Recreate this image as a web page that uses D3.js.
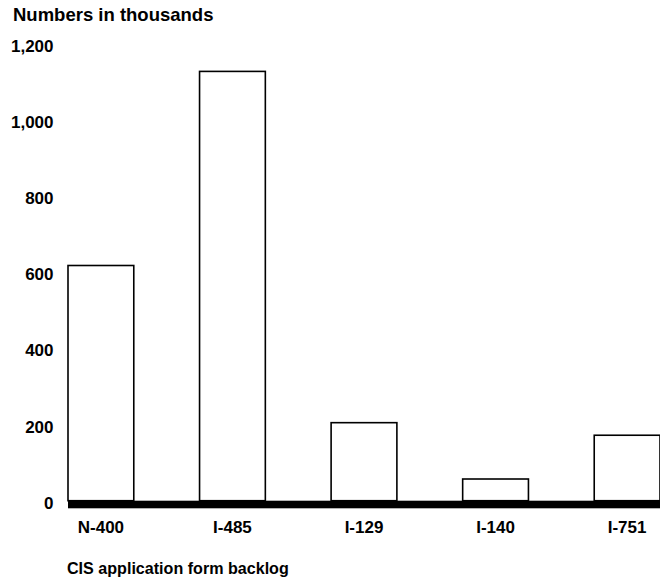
<!DOCTYPE html>
<html lang="en">
<head>
<meta charset="utf-8">
<title>CIS application form backlog</title>
<script src="https://cdn.jsdelivr.net/npm/d3@7"></script>
<style>
  body { margin: 0; background: #fff; }
  text { font-family: "Liberation Sans", Arial, Helvetica, sans-serif; font-weight: bold; fill: #000; }
</style>
</head>
<body>
<div id="chart"></div>
<script>
// backlog by form, in thousands
var forms = ["N-400", "I-485", "I-129", "I-140", "I-751"];
var backlog = [618, 1128, 205, 57, 172];
var tickValues = [0, 200, 400, 600, 800, 1000, 1200];

var width = 660, height = 581;

var svg = d3.select("#chart").append("svg")
  .attr("width", width)
  .attr("height", height);

var x = d3.scaleBand()
  .domain(forms)
  .range([68, 660])
  .paddingInner(0.5)
  .paddingOuter(0);

var y = d3.scaleLinear()
  .domain([0, 1200])
  .range([500.7, 44]);

// y tick labels only, no axis line
var yAxis = d3.axisLeft(y)
  .tickValues(tickValues)
  .tickFormat(d3.format(","))
  .tickSize(0)
  .tickPadding(0);

var gy = svg.append("g")
  .attr("transform", "translate(53.5,2)")
  .call(yAxis);
gy.select(".domain").remove();
gy.selectAll("text")
  .attr("font-size", 17)
  .attr("font-family", null);

// bars
svg.selectAll("rect.bar")
  .data(forms)
  .enter().append("rect")
  .attr("class", "bar")
  .attr("x", function(d) { return x(d); })
  .attr("width", x.bandwidth())
  .attr("y", function(d, i) { return y(backlog[i]); })
  .attr("height", function(d, i) { return y(0) - y(backlog[i]); })
  .style("fill", "#fff")
  .style("stroke", "#000")
  .style("stroke-width", 1.6);

// thick baseline
svg.append("rect")
  .attr("x", x.range()[0])
  .attr("y", y(0))
  .attr("width", x.range()[1] - x.range()[0])
  .attr("height", 7.6)
  .style("fill", "#000");

// x category labels
var xAxis = d3.axisBottom(x).tickSize(0).tickPadding(0);
var gx = svg.append("g")
  .attr("transform", "translate(0,533)")
  .call(xAxis);
gx.select(".domain").remove();
gx.selectAll("text")
  .attr("dy", 0)
  .attr("font-size", 17)
  .attr("font-family", null);

svg.append("text")
  .attr("x", 13)
  .attr("y", 21)
  .attr("font-size", 18.5)
  .text("Numbers in thousands");

svg.append("text")
  .attr("x", 67)
  .attr("y", 574)
  .attr("font-size", 16.1)
  .text("CIS application form backlog");
</script>
</body>
</html>
